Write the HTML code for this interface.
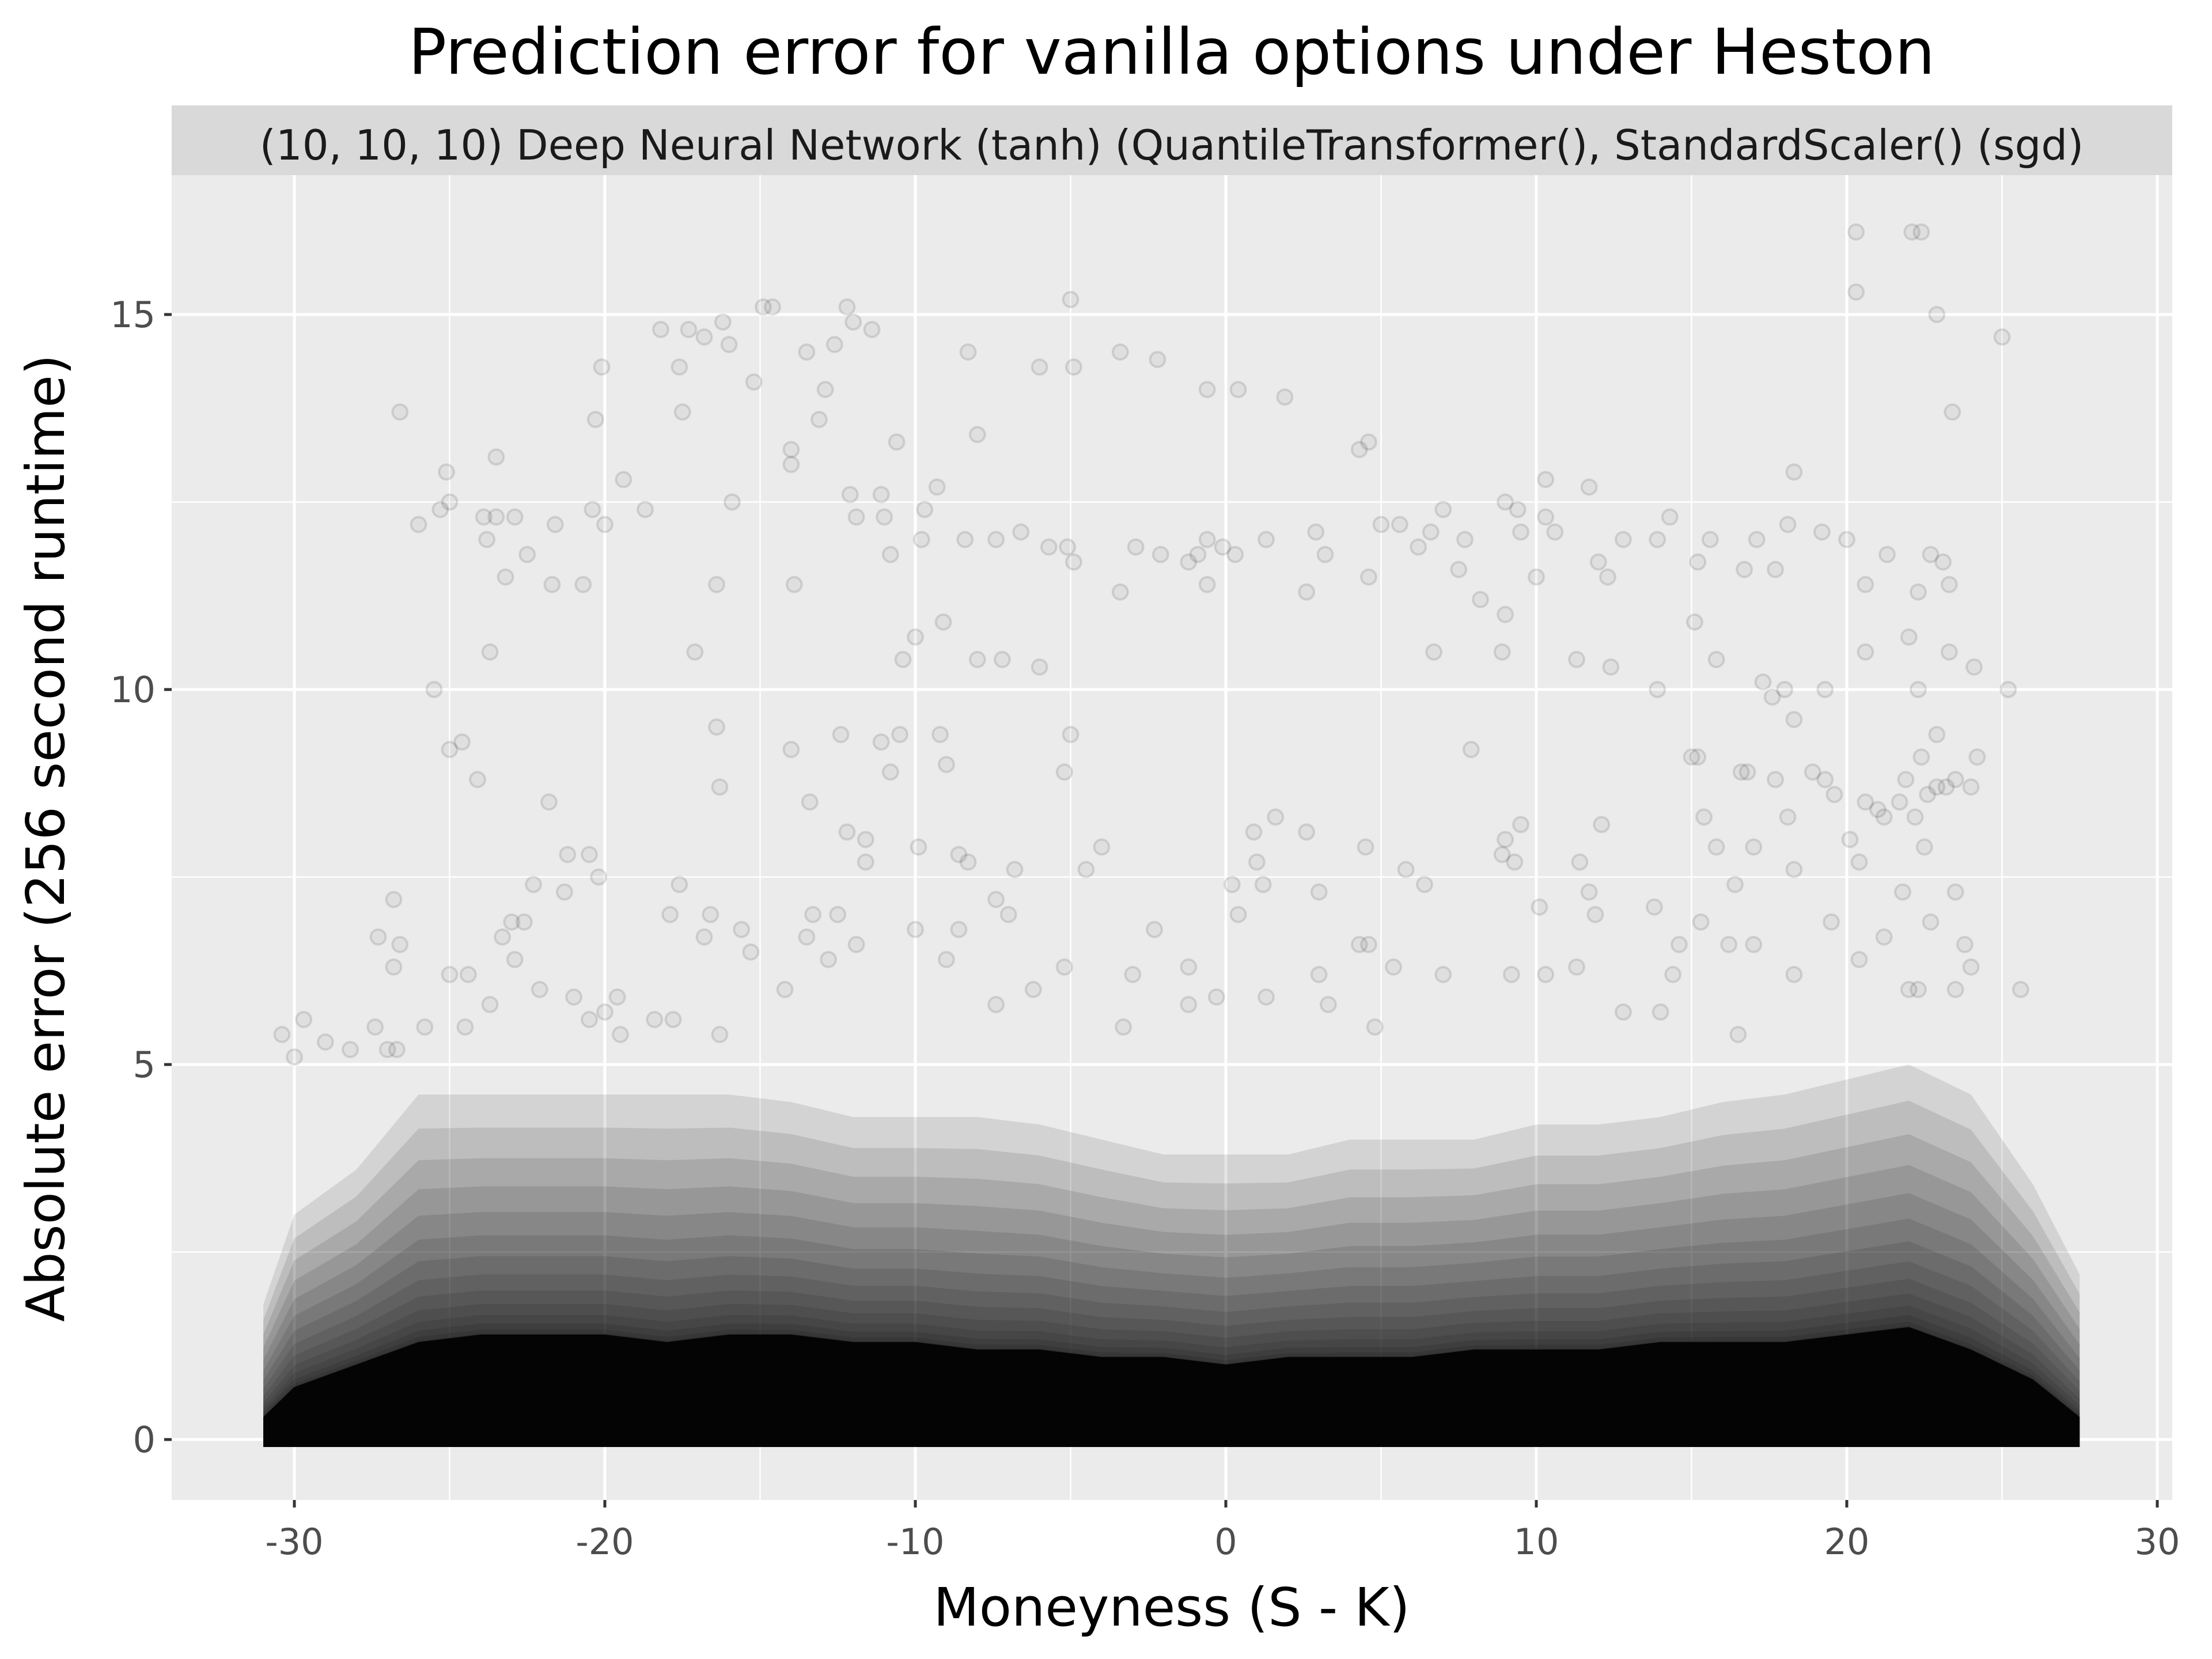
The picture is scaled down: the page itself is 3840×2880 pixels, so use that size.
<!DOCTYPE html>
<html><head><meta charset="utf-8"><style>
html,body{margin:0;padding:0;background:#fff;}
svg{display:block;font-family:"DejaVu Sans","Liberation Sans",sans-serif;}
</style></head><body>
<svg id="chart" xmlns="http://www.w3.org/2000/svg" width="3840" height="2880" viewBox="0 0 3840 2880">
<rect x="0" y="0" width="3840" height="2880" fill="#fff"/>
<text x="2034" y="128" font-size="110" text-anchor="middle" fill="#000">Prediction error for vanilla options under Heston</text>
<rect x="298" y="183" width="3473" height="121" fill="#d9d9d9"/>
<text x="2034" y="277" font-size="72" text-anchor="middle" fill="#1a1a1a">(10, 10, 10) Deep Neural Network (tanh) (QuantileTransformer(), StandardScaler() (sgd)</text>
<rect x="298" y="304" width="3473" height="2300" fill="#ebebeb"/>
<g id="grid"></g>
<g id="band"></g>
<g id="points"></g>
<g id="axes"></g>
<text x="2034" y="2822" font-size="92" text-anchor="middle" fill="#000">Moneyness (S - K)</text>
<text transform="translate(111,1455) rotate(-90)" font-size="92" text-anchor="middle" fill="#000">Absolute error (256 second runtime)</text>
</svg>
<script>
const xTicks = [-30,-20,-10,0,10,20,30];
const xMinor = [-25,-15,-5,5,15,25];
const yTicks = [0,5,10,15];
const yMinor = [2.5,7.5,12.5];
const binCenters = [-31,-30,-28,-26,-24,-22,-20,-18,-16,-14,-12,-10,-8,-6,-4,-2,0,2,4,6,8,10,12,14,16,18,20,22,24,26,27.5];
const solidTop = [0.3,0.7,1.0,1.3,1.4,1.4,1.4,1.3,1.4,1.4,1.3,1.3,1.2,1.2,1.1,1.1,1.0,1.1,1.1,1.1,1.2,1.2,1.2,1.3,1.3,1.3,1.4,1.5,1.2,0.8,0.3];
const fringeTop = [1.8,3.0,3.6,4.6,4.6,4.6,4.6,4.6,4.6,4.5,4.3,4.3,4.3,4.2,4.0,3.8,3.8,3.8,4.0,4.0,4.0,4.2,4.2,4.3,4.5,4.6,4.8,5.0,4.6,3.4,2.2];
const ptX = [20.3,22.1,22.4,20.3,22.9,25.0,23.4,-14.9,-14.6,-12.2,-5.0,-12.0,-11.4,-17.3,-18.2,-16.8,-16.2,-12.6,-13.5,-15.2,-17.6,-20.1,-16,-6.0,-4.9,-3.4,-2.2,-0.6,0.4,1.9,-14.0,-14.0,-13.1,-12.9,-8.3,-17.5,-20.3,-26.6,-8.0,-10.6,4.3,4.6,-25.1,-23.5,-19.4,-26,-25.3,-25.0,-23.9,-23.5,-23.2,-23.8,-22.9,-21.6,-20.4,-20.0,-21.7,-20.7,-22.5,-18.7,-15.9,-16.4,-17.1,-25.5,-23.7,-12.1,-11.1,-11.9,-11.0,-9.7,-9.3,-9.8,-8.4,-7.4,-6.6,-5.7,-5.1,-4.9,-10.8,-13.9,-2.9,-2.1,-1.2,-0.9,-0.6,-0.1,0.3,1.3,2.9,3.2,2.6,-0.6,-3.4,4.6,5.0,5.6,6.2,6.6,7.0,7.5,7.7,8.2,9.0,9.4,9.5,10.3,10.3,10.6,11.7,12.0,12.3,12.8,13.9,14.3,15.2,15.6,16.7,17.1,17.7,18.1,18.3,19.2,20.0,20.6,21.3,22.3,22.7,23.1,23.3,9.0,10.0,11.3,12.4,13.9,15.1,15.8,17.3,17.6,18.0,19.3,20.6,22.0,22.3,23.3,24.1,25.2,8.9,6.7,-8.0,-7.2,-6.0,-10.0,-10.4,-9.1,
-25,-24.6,-24.1,-21.8,-21.2,-20.5,-20.2,-22.3,-22.6,-21.3,-26.8,-27.3,-26.6,-26.8,-25.0,-24.4,-23.3,-22.9,-23.7,-17.9,-17.6,-16.8,-16.6,-16.3,-16.4,-15.6,-14.0,-13.4,-12.4,-12.2,-11.1,-10.8,-11.6,-9.2,-9.0,-8.6,-8.3,-9.9,-10.5,-5.0,-5.2,-4.0,-6.8,-7.4,-7.0,-12.5,-13.3,-13.5,-11.6,-4.5,-3.3,-2.3,0.2,0.4,1.0,1.2,1.6,0.9,2.6,4.5,3.0,4.6,4.3,5.8,6.4,7.9,9.0,9.5,8.9,9.3,10.1,11.4,11.7,12.1,11.9,13.8,14.6,15.0,15.2,15.4,15.8,16.4,16.6,16.8,17.0,17.7,18.1,18.3,18.3,18.9,19.3,19.6,20.1,20.4,20.6,21.0,21.2,21.7,21.9,22.2,22.5,22.6,22.9,23.2,23.5,24.0,24.2,22.9,22.4,23.5,22.7,21.8,21.2,20.4,23.8,23.5,22.0,22.3,24.0,25.6,19.5,18.3,17.0,16.2,15.3,14.4,11.3,9.2,10.3,7.0,5.4,3.0,3.3,1.3,-1.2,-1.2,-0.3,-3.0,-5.2,-6.2,-7.4,-8.6,-9.0,-10.0,-11.9,-12.8,-14.2,-15.3,-16.3,-17.8,-18.4,-19.6,-19.5,-20.0,-20.5,-21.0,-22.1,-23.0,-24.5,-25.8,-27.4,-29.7,-30.4,-29.0,-28.2,-30.0,-27,-26.7,4.8,12.8,14.0,16.5];
const ptY = [16.1,16.1,16.1,15.3,15.0,14.7,13.7,15.1,15.1,15.1,15.2,14.9,14.8,14.8,14.8,14.7,14.9,14.6,14.5,14.1,14.3,14.3,14.6,14.3,14.3,14.5,14.4,14.0,14.0,13.9,13.2,13.0,13.6,14.0,14.5,13.7,13.6,13.7,13.4,13.3,13.2,13.3,12.9,13.1,12.8,12.2,12.4,12.5,12.3,12.3,11.5,12.0,12.3,12.2,12.4,12.2,11.4,11.4,11.8,12.4,12.5,11.4,10.5,10.0,10.5,12.6,12.6,12.3,12.3,12.4,12.7,12.0,12.0,12.0,12.1,11.9,11.9,11.7,11.8,11.4,11.9,11.8,11.7,11.8,12.0,11.9,11.8,12.0,12.1,11.8,11.3,11.4,11.3,11.5,12.2,12.2,11.9,12.1,12.4,11.6,12.0,11.2,12.5,12.4,12.1,12.3,12.8,12.1,12.7,11.7,11.5,12.0,12.0,12.3,11.7,12.0,11.6,12.0,11.6,12.2,12.9,12.1,12.0,11.4,11.8,11.3,11.8,11.7,11.4,11.0,11.5,10.4,10.3,10.0,10.9,10.4,10.1,9.9,10.0,10.0,10.5,10.7,10.0,10.5,10.3,10.0,10.5,10.5,10.4,10.4,10.3,10.7,10.4,10.9,
9.2,9.3,8.8,8.5,7.8,7.8,7.5,7.4,6.9,7.3,7.2,6.7,6.6,6.3,6.2,6.2,6.7,6.4,5.8,7.0,7.4,6.7,7.0,8.7,9.5,6.8,9.2,8.5,9.4,8.1,9.3,8.9,8.0,9.4,9.0,7.8,7.7,7.9,9.4,9.4,8.9,7.9,7.6,7.2,7.0,7.0,7.0,6.7,7.7,7.6,5.5,6.8,7.4,7.0,7.7,7.4,8.3,8.1,8.1,7.9,7.3,6.6,6.6,7.6,7.4,9.2,8.0,8.2,7.8,7.7,7.1,7.7,7.3,8.2,7.0,7.1,6.6,9.1,9.1,8.3,7.9,7.4,8.9,8.9,7.9,8.8,8.3,7.6,9.6,8.9,8.8,8.6,8.0,7.7,8.5,8.4,8.3,8.5,8.8,8.3,7.9,8.6,8.7,8.7,8.8,8.7,9.1,9.4,9.1,7.3,6.9,7.3,6.7,6.4,6.6,6.0,6.0,6.0,6.3,6.0,6.9,6.2,6.6,6.6,6.9,6.2,6.3,6.2,6.2,6.2,6.3,6.2,5.8,5.9,6.3,5.8,5.9,6.2,6.3,6.0,5.8,6.8,6.4,6.8,6.6,6.4,6.0,6.5,5.4,5.6,5.6,5.9,5.4,5.7,5.6,5.9,6.0,6.9,5.5,5.5,5.5,5.6,5.4,5.3,5.2,5.1,5.2,5.2,5.5,5.7,5.7,5.4];

const NS = "http://www.w3.org/2000/svg";
const X0 = 2128, XU = 53.9, Y0 = 2499, YU = 130.2;
function xs(v){ return X0 + v*XU; }
function ys(v){ return Y0 - v*YU; }
function mk(tag, attrs, parent){
  const el = document.createElementNS(NS, tag);
  for (const k in attrs) el.setAttribute(k, attrs[k]);
  parent.appendChild(el);
  return el;
}
const grid = document.getElementById('grid');
xMinor.forEach(v=>{
  const l = mk('line',{x1:xs(v),x2:xs(v),y1:304,y2:2604,stroke:'#fff','stroke-width':2.5},grid);
  
  
});
yMinor.forEach(v=>{
  const l = mk('line',{x1:298,x2:3771,y1:ys(v),y2:ys(v),stroke:'#fff','stroke-width':2.5},grid);
  
  
});
xTicks.forEach(v=>{
  const l = mk('line',{x1:xs(v),x2:xs(v),y1:304,y2:2604,stroke:'#fff','stroke-width':5},grid);
  
  
});
yTicks.forEach(v=>{
  const l = mk('line',{x1:298,x2:3771,y1:ys(v),y2:ys(v),stroke:'#fff','stroke-width':5},grid);
  
  
});

const band = document.getElementById('band');
const nLayers = 14;
function layerPath(f, base){
  let d = 'M' + xs(binCenters[0]) + ',' + ys(base);
  for (let i=0;i<binCenters.length;i++){
    const h = solidTop[i] + (fringeTop[i]-solidTop[i])*f;
    d += ' L' + xs(binCenters[i]) + ',' + ys(h);
  }
  d += ' L' + xs(binCenters[binCenters.length-1]) + ',' + ys(base) + ' Z';
  return d;
}
for (let k=nLayers;k>=1;k--){
  const f = k/nLayers;
  const p = mk('path',{d:layerPath(f*f, -0.1),fill:'#000','fill-opacity':0.1,stroke:'none'},band);
  
  
}
const core = mk('path',{d:layerPath(0, -0.1),fill:'#000','fill-opacity':0.92},band);



const pts = document.getElementById('points');
for (let i=0;i<ptX.length;i++){
  const c = mk('circle',{cx:xs(ptX[i]),cy:ys(ptY[i]),r:13,fill:'#000','fill-opacity':0.05,stroke:'#000','stroke-opacity':0.11,'stroke-width':4},pts);
  
  
}

const axes = document.getElementById('axes');
xTicks.forEach(v=>{
  const t = mk('line',{x1:xs(v),x2:xs(v),y1:2604,y2:2617,stroke:'#333','stroke-width':5},axes);
  
  
  const tx = mk('text',{x:xs(v),y:2698,'font-size':62,'text-anchor':'middle',fill:'#4d4d4d'},axes);
  tx.textContent = String(v);
  
  
});
yTicks.forEach(v=>{
  const t = mk('line',{x1:285,x2:298,y1:ys(v),y2:ys(v),stroke:'#333','stroke-width':5},axes);
  
  
  const tx = mk('text',{x:270,y:ys(v)+22,'font-size':62,'text-anchor':'end',fill:'#4d4d4d'},axes);
  tx.textContent = String(v);
  
  
});
</script>
</body></html>
